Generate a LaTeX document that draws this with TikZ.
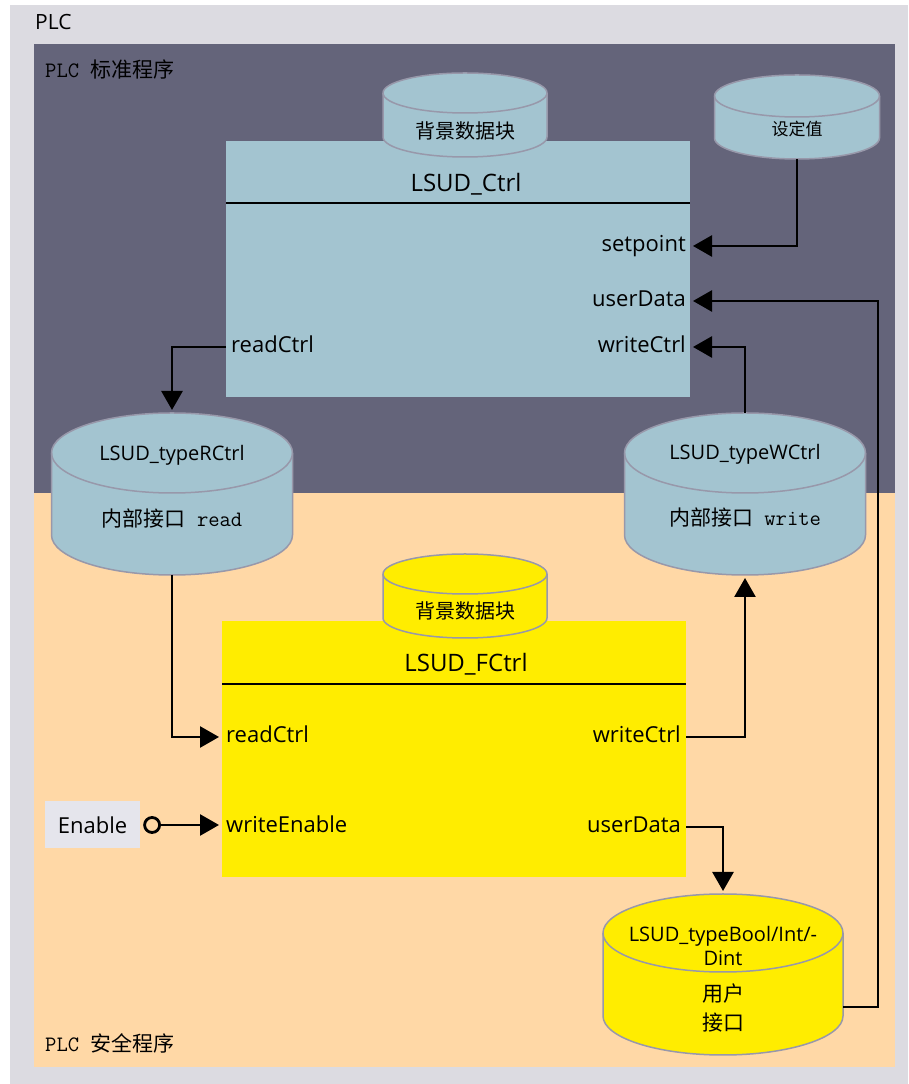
\documentclass[tikz,border=0pt]{standalone}
\usepackage{fontspec}
\setmainfont{Open Sans}
\newfontfamily\zhfont{Noto Sans CJK SC}
\usetikzlibrary{calc, positioning, arrows.meta}

\definecolor{frame}{RGB}{220,219,225}
\definecolor{stdarea}{RGB}{100,100,122}
\definecolor{safearea}{RGB}{255,216,166}
\definecolor{fbblue}{RGB}{163,196,208}
\definecolor{fbyellow}{RGB}{255,237,0}
\definecolor{rim}{RGB}{152,152,170}
\definecolor{enablegrey}{RGB}{229,229,236}

\newcommand\zh[1]{{\zhfont #1}}
\newcommand\tx[1]{{\ttfamily\fontsize{22}{26}\selectfont #1}}
% cylinder drawn round an empty node: name, fill, x radius, y radius
\newcommand\dbcyl[4]{%
  \path[fill=#2, draw=rim, line width=1.5pt]
    ($(#1.north west)+(0,-#4)$) -- ($(#1.south west)+(0,#4)$)
    arc[start angle=180, end angle=360, x radius=#3, y radius=#4]
    -- ($(#1.north east)+(0,-#4)$)
    arc[start angle=0, end angle=180, x radius=#3, y radius=#4] -- cycle;
  \draw[rim, line width=1.5pt] ($(#1.north west)+(0,-#4)$)
    arc[start angle=180, end angle=360, x radius=#3, y radius=#4];
}

\begin{document}
\begin{tikzpicture}[x=1pt, y=1pt,
  conn/.style={line width=2.6pt, -{Triangle[length=19pt, width=21pt]}, shorten >=3pt},
  area/.style={anchor=west, inner sep=0pt, font=\fontsize{21}{25}\selectfont},
  block/.style={inner sep=0pt, outer sep=0pt, minimum width=464pt, minimum height=256pt},
  blocktitle/.style={inner sep=0pt, font=\fontsize{24}{28}\selectfont},
  hdr/.style={line width=2.4pt},
  port/.style={inner sep=0pt, text height=16pt, text depth=5pt, font=\fontsize{22}{26}\selectfont},
  drum/.style={inner sep=0pt, outer sep=0pt},
  drumtext/.style={inner sep=0pt, align=center, font=\fontsize{20}{24}\selectfont},
  zhtext/.style={inner sep=0pt, align=center, font={\zhfont\fontsize{21}{29}\selectfont}},
]
\useasboundingbox (0,0) rectangle (909,1084);
\fill[white] (0,0) rectangle (909,1084);

% areas
\fill[frame] (10,0) rectangle (908,1079);
\fill[stdarea] (34,591) rectangle (895,1040);
\fill[safearea] (34,17) rectangle (895,591);
\node[area] (plc) at (35,1062) {PLC};
\node[area] (std) at (45,1014) {\tx{PLC }\zh{标准程序}};
\node[area] (safe) at (45,41) {\tx{PLC }\zh{安全程序}};

% LSUD_Ctrl
\node[block, fill=fbblue] (ctrl) at (458,815) {};
\draw[hdr] ($(ctrl.north west)+(0,-62)$) -- ($(ctrl.north east)+(0,-62)$);
\node[drum, minimum width=164pt, minimum height=84pt] (ctrlidb) at (465,969) {};
\dbcyl{ctrlidb}{fbblue}{82}{20}
\node[zhtext, font={\zhfont\fontsize{20}{24}\selectfont}] (ctrlidbtext) at (465,953) {背景数据块};
\node[blocktitle] (ctrltitle) at (466,900) {LSUD\_Ctrl};
\node[port, anchor=east] (csp) at (686,838) {setpoint};
\node[port, anchor=east] (cud) at (686,783) {userData};
\node[port, anchor=east] (cwc) at (686,737) {writeCtrl};
\node[port, anchor=west] (crc) at (231,737) {readCtrl};

% setpoint data
\node[drum, minimum width=165pt, minimum height=84pt] (setv) at (797,967) {};
\dbcyl{setv}{fbblue}{82.5}{21}
\node[zhtext, font={\zhfont\fontsize{17}{20}\selectfont}] (setvtext) at (797,955) {设定值};

% internal interfaces
\node[drum, minimum width=241pt, minimum height=162pt] (rctl) at (172,590) {};
\dbcyl{rctl}{fbblue}{120.5}{40}
\node[drumtext] (rctlname) at (172,629) {LSUD\_typeRCtrl};
\node[drumtext, font=\fontsize{21}{25}\selectfont] (rctlkind) at (172,565)
  {\zh{内部接口}\tx{\ read}};

\node[drum, minimum width=241pt, minimum height=162pt] (wctl) at (745,590) {};
\dbcyl{wctl}{fbblue}{120.5}{40}
\node[drumtext] (wctlname) at (745,630) {LSUD\_typeWCtrl};
\node[drumtext, font=\fontsize{21}{25}\selectfont] (wctlkind) at (745,566)
  {\zh{内部接口}\tx{\ write}};

% LSUD_FCtrl
\node[block, fill=fbyellow] (fctrl) at (454,335) {};
\draw[hdr] ($(fctrl.north west)+(0,-63)$) -- ($(fctrl.north east)+(0,-63)$);
\node[drum, minimum width=164pt, minimum height=84pt] (fctrlidb) at (465,488) {};
\dbcyl{fctrlidb}{fbyellow}{82}{20}
\node[zhtext, font={\zhfont\fontsize{20}{24}\selectfont}] (fctrlidbtext) at (465,473) {背景数据块};
\node[blocktitle] (fctrltitle) at (466,420) {LSUD\_FCtrl};
\node[port, anchor=west] (frc) at (226,347) {readCtrl};
\node[port, anchor=west] (fwe) at (226,257) {writeEnable};
\node[port, anchor=east] (fwc) at (681,347) {writeCtrl};
\node[port, anchor=east] (fud) at (681,257) {userData};

% user interface
\node[drum, minimum width=240pt, minimum height=161pt] (bool) at (723,109.5) {};
\dbcyl{bool}{fbyellow}{120}{39}
\node[drumtext] (boolname) at (723,138) {LSUD\_typeBool/Int/-\\Dint};
\node[zhtext] (boolkind) at (723,76) {用户\\接口};
\coordinate (boolout) at ($(bool.south east)+(0,48)$);

% enable input
\node[fill=enablegrey, minimum width=95pt, minimum height=47pt, inner sep=0pt,
  font=\fontsize{22}{26}\selectfont] (enable) at (92.5,259) {Enable};
\node[circle, draw, line width=2.8pt, minimum size=15pt, inner sep=0pt, right=3pt of enable] (enpin) {};

% connectors
\draw[conn] (setv.south) |- (ctrl.east |- csp);
\draw[conn] (boolout) -- ++(35,0) |- (ctrl.east |- cud);
\draw[conn] (wctl.north) |- (ctrl.east |- cwc);
\draw[conn] (crc -| ctrl.west) -| (rctl.north);
\draw[conn] (rctl.south) |- (fctrl.west |- frc);
\draw[conn] (fwc -| fctrl.east) -| (wctl.south);
\draw[conn] (fud -| fctrl.east) -| (bool.north);
\draw[conn] (enpin) -- (enpin -| fctrl.west);
\end{tikzpicture}
\end{document}
